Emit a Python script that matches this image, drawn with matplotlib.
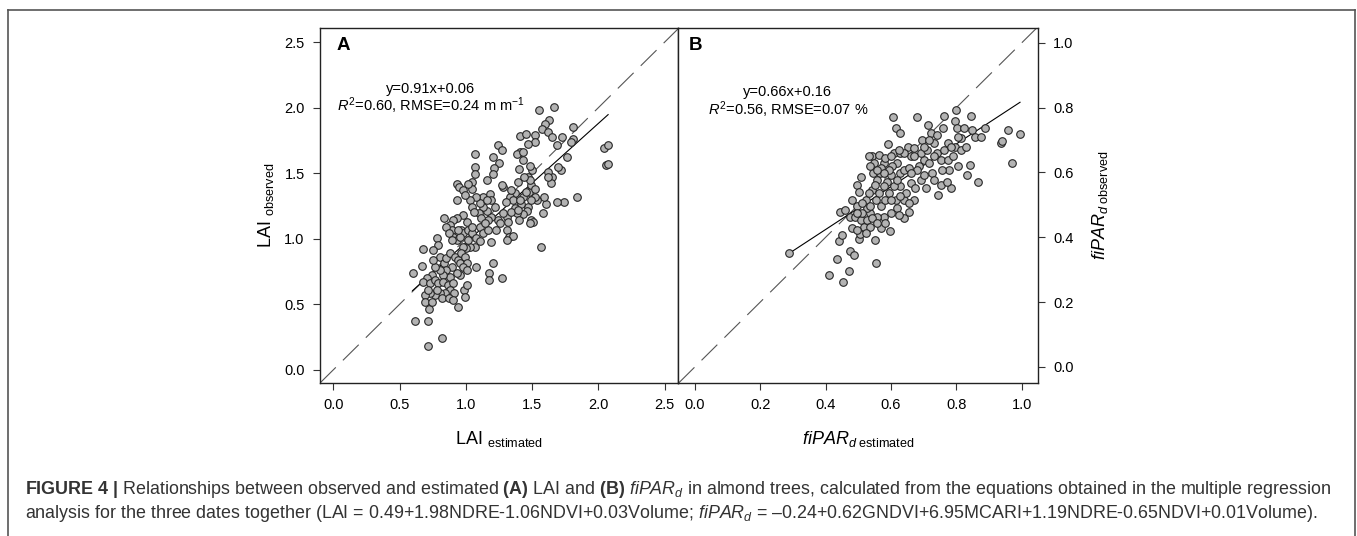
import numpy as np
import matplotlib
matplotlib.use("Agg")
import matplotlib.pyplot as plt
from matplotlib.lines import Line2D

plt.rcParams['font.family'] = ['Liberation Sans', 'DejaVu Sans']
plt.rcParams['mathtext.fontset'] = 'custom'
plt.rcParams['mathtext.rm'] = 'Liberation Sans'
plt.rcParams['mathtext.it'] = 'Liberation Sans:italic'
plt.rcParams['mathtext.bf'] = 'Liberation Sans:bold'

# panel A: LAI estimated vs observed
lai_est = [0.598, 0.62, 0.666, 0.678, 0.711, 0.716, 0.724, 0.819, 1.555, 1.663, 1.628, 1.60, 1.575, 1.616,
           1.646, 1.525, 1.525, 1.407, 1.452, 1.465, 1.726, 1.806, 1.81, 1.79, 1.686, 1.764, 1.716, 1.693,
           1.648, 1.64, 1.616, 1.616, 2.043, 2.073, 2.055, 2.073, 1.837, 1.739, 1.688, 1.603, 1.59, 1.538,
           1.52, 1.583, 1.565, 1.477, 1.49, 1.465, 1.502, 1.482, 1.47, 1.495, 1.51, 1.482, 1.462, 1.432,
           1.415, 1.432, 1.45, 1.394, 1.402, 1.432, 1.412, 1.382, 1.432, 1.37, 1.332, 1.357, 1.307, 1.324,
           1.352, 1.307, 1.382, 1.40, 1.37, 1.307, 1.337, 1.281, 1.269, 1.244, 1.276, 1.251, 1.206, 1.214,
           1.201, 1.156, 1.131, 1.181, 1.186, 1.219, 1.244, 1.261, 1.231, 1.193, 1.168, 1.156, 1.131, 1.10,
           1.106, 1.08, 1.106, 1.131, 1.168, 1.186, 1.201, 1.176, 1.176, 1.269, 1.08, 1.07, 1.068, 1.07,
           1.043, 1.048, 1.018, 1.03, 1.048, 1.063, 0.935, 0.945, 0.98, 0.992, 0.935, 0.98, 0.93, 1.005,
           0.96, 0.98, 1.018, 1.043, 1.08, 1.106, 1.068, 1.03, 1.0, 0.975, 0.905, 0.879, 0.892, 0.905,
           0.93, 0.955, 0.942, 0.834, 0.854, 0.874, 0.897, 0.779, 0.792, 0.754, 0.804, 0.834, 0.854, 0.879,
           0.917, 0.942, 0.967, 0.955, 0.992, 1.005, 0.98, 1.005, 0.955, 0.93, 0.897, 0.854, 0.879, 0.829,
           0.804, 0.766, 0.754, 0.741, 0.704, 0.678, 0.729, 0.766, 0.792, 0.829, 0.867, 0.905, 0.879, 0.91,
           0.842, 0.804, 0.766, 0.729, 0.691, 0.716, 0.691, 0.741, 0.784, 0.817, 0.874, 0.905, 0.942, 0.987,
           1.005, 0.997, 1.018, 1.043, 1.118, 1.143, 1.161, 1.302, 1.337, 1.482, 1.281, 1.319, 1.394, 1.407,
           1.442, 1.52, 1.495]
lai_obs = [0.736, 0.376, 0.794, 0.919, 0.373, 0.185, 0.464, 0.246, 1.98, 2.005, 1.904, 1.878, 1.84, 1.815,
           1.777, 1.789, 1.739, 1.782, 1.797, 1.721, 1.777, 1.853, 1.764, 1.739, 1.713, 1.624, 1.523, 1.548,
           1.472, 1.426, 1.51, 1.472, 1.693, 1.713, 1.566, 1.569, 1.32, 1.282, 1.282, 1.264, 1.32, 1.294,
           1.32, 1.193, 0.939, 1.358, 1.409, 1.472, 1.523, 1.553, 1.244, 1.142, 1.129, 1.117, 1.213, 1.188,
           1.264, 1.32, 1.358, 1.434, 1.53, 1.599, 1.662, 1.65, 1.662, 1.35, 1.32, 1.294, 1.066, 1.01,
           1.02, 0.99, 1.193, 1.142, 1.231, 1.168, 1.206, 1.396, 1.409, 1.713, 1.675, 1.574, 1.624, 1.536,
           1.497, 1.447, 1.32, 1.345, 1.294, 1.244, 1.142, 1.117, 1.066, 1.168, 1.142, 1.213, 1.244, 1.193,
           1.269, 1.32, 1.091, 1.041, 1.066, 0.977, 0.817, 0.736, 0.685, 0.698, 0.787, 1.65, 1.548, 1.492,
           1.434, 1.376, 1.421, 1.294, 1.244, 1.206, 1.421, 1.396, 1.371, 1.332, 1.294, 1.18, 1.155, 1.129,
           1.066, 1.041, 1.066, 1.041, 1.003, 0.985, 0.939, 0.939, 0.926, 0.939, 1.142, 1.104, 1.066, 1.015,
           0.99, 1.015, 1.066, 1.155, 1.091, 1.041, 0.99, 1.003, 0.952, 0.914, 0.863, 0.812, 0.85, 0.888,
           0.863, 0.838, 0.888, 0.812, 0.863, 0.812, 0.787, 0.761, 0.723, 0.736, 0.787, 0.761, 0.711, 0.723,
           0.761, 0.787, 0.838, 0.723, 0.698, 0.673, 0.66, 0.685, 0.66, 0.673, 0.647, 0.66, 0.609, 0.584,
           0.584, 0.584, 0.571, 0.584, 0.571, 0.609, 0.52, 0.52, 0.609, 0.546, 0.546, 0.533, 0.477, 0.609,
           0.647, 0.553, 0.99, 1.091, 1.155, 1.117, 1.294, 1.282, 1.371, 1.447, 1.193, 1.129, 1.218, 1.294,
           1.472, 1.383, 1.294]

# panel B: fiPAR_d estimated vs observed
fipar_est = [0.289, 0.409, 0.453, 0.471, 0.435, 0.474, 0.488, 0.553, 0.551, 0.502, 0.504, 0.44, 0.45, 0.445,
             0.46, 0.476, 0.481, 0.496, 0.501, 0.509, 0.496, 0.491, 0.507, 0.517, 0.481, 0.496, 0.537, 0.542,
             0.544, 0.542, 0.547, 0.563, 0.578, 0.566, 0.558, 0.55, 0.563, 0.553, 0.568, 0.578, 0.57, 0.597,
             0.583, 0.588, 0.599, 0.59, 0.605, 0.615, 0.629, 0.609, 0.627, 0.619, 0.604, 0.629, 0.64, 0.629,
             0.609, 0.594, 0.614, 0.64, 0.619, 0.64, 0.655, 0.662, 0.655, 0.653, 0.67, 0.679, 0.696, 0.701,
             0.686, 0.691, 0.706, 0.681, 0.66, 0.714, 0.721, 0.732, 0.742, 0.716, 0.727, 0.732, 0.744, 0.752,
             0.742, 0.763, 0.76, 0.773, 0.752, 0.776, 0.778, 0.785, 0.771, 0.79, 0.798, 0.796, 0.801, 0.796,
             0.814, 0.814, 0.806, 0.824, 0.829, 0.844, 0.849, 0.842, 0.834, 0.865, 0.857, 0.875, 0.887, 0.936,
             0.941, 0.959, 0.969, 0.995, 0.532, 0.537, 0.568, 0.583, 0.594, 0.619, 0.645, 0.675, 0.701, 0.67,
             0.655, 0.624, 0.599, 0.558, 0.527, 0.522, 0.532, 0.578, 0.599, 0.629, 0.66, 0.691, 0.711, 0.732,
             0.757, 0.763, 0.783, 0.806, 0.716, 0.701, 0.67, 0.64, 0.624, 0.599, 0.578, 0.558, 0.512, 0.512,
             0.527, 0.542, 0.558, 0.537, 0.522, 0.583, 0.537, 0.496]
fipar_obs = [0.351, 0.284, 0.261, 0.297, 0.332, 0.356, 0.345, 0.32, 0.392, 0.394, 0.41, 0.387, 0.407, 0.479,
             0.485, 0.464, 0.515, 0.562, 0.541, 0.586, 0.495, 0.464, 0.454, 0.433, 0.428, 0.423, 0.474, 0.546,
             0.598, 0.652, 0.629, 0.655, 0.629, 0.598, 0.577, 0.562, 0.536, 0.515, 0.495, 0.464, 0.428, 0.418,
             0.515, 0.572, 0.593, 0.689, 0.771, 0.737, 0.722, 0.66, 0.66, 0.629, 0.619, 0.598, 0.608, 0.557,
             0.557, 0.536, 0.515, 0.515, 0.49, 0.459, 0.479, 0.567, 0.613, 0.68, 0.675, 0.771, 0.701, 0.639,
             0.619, 0.577, 0.552, 0.608, 0.65, 0.747, 0.722, 0.691, 0.716, 0.629, 0.598, 0.577, 0.531, 0.562,
             0.66, 0.773, 0.737, 0.691, 0.639, 0.639, 0.608, 0.552, 0.572, 0.65, 0.794, 0.758, 0.737, 0.68,
             0.706, 0.67, 0.619, 0.737, 0.68, 0.773, 0.732, 0.624, 0.593, 0.572, 0.711, 0.711, 0.737, 0.691,
             0.696, 0.73, 0.629, 0.72, 0.65, 0.619, 0.613, 0.645, 0.608, 0.577, 0.536, 0.552, 0.593, 0.515,
             0.505, 0.469, 0.474, 0.464, 0.49, 0.515, 0.536, 0.557, 0.515, 0.526, 0.598, 0.66, 0.67, 0.65,
             0.608, 0.67, 0.68, 0.711, 0.701, 0.68, 0.65, 0.66, 0.67, 0.65, 0.598, 0.608, 0.505, 0.474,
             0.454, 0.459, 0.443, 0.433, 0.413, 0.443, 0.495, 0.474]

# fitted lines
fit_a = (0.91, 0.06)
fit_b = (0.66, 0.16)
xticks_a = [0.0, 0.5, 1.0, 1.5, 2.0, 2.5]
xticks_b = [0.0, 0.2, 0.4, 0.6, 0.8, 1.0]

W, H = 1357, 536
fig = plt.figure(figsize=(W / 100, H / 100), dpi=100)

def box(l, t, r, b):
    return [l / W, 1 - b / H, (r - l) / W, (b - t) / H]

axA = fig.add_axes(box(320, 28, 678, 383))
axB = fig.add_axes(box(678, 28, 1038, 383))

mk = dict(s=30, facecolor='#b3b3b3', edgecolor='#262626', linewidths=0.8, zorder=3)
dash = dict(color='#555555', lw=0.8, dashes=(20, 9))

# panel A
axA.plot([-0.1, 2.6], [-0.1, 2.6], **dash)
xs = np.array([min(lai_est), max(lai_est)])
axA.plot(xs, fit_a[0] * xs + fit_a[1], color='black', lw=0.8, zorder=2)
axA.scatter(lai_est, lai_obs, **mk)
axA.set_xlim(-0.1, 2.6)
axA.set_ylim(-0.1, 2.607)
axA.set_xticks(xticks_a)
axA.set_yticks(xticks_a)
axA.set_xticklabels(['%.1f' % v for v in xticks_a])
axA.set_yticklabels(['%.1f' % v for v in xticks_a])
axA.set_xlabel(r'LAI $_{\rm estimated}$', fontsize=13, labelpad=12)
axA.set_ylabel(r'LAI $_{\rm observed}$', fontsize=13, labelpad=6)
axA.text(0.045, 0.975, 'A', transform=axA.transAxes, fontsize=13.5, fontweight='bold', va='top')
axA.text(0.31, 0.80, 'y=0.91x+0.06\n' + r'$R^2$=0.60, RMSE=0.24 m m$^{-1}$',
         transform=axA.transAxes, ha='center', va='center', fontsize=10.5, linespacing=1.0)

# panel B
axB.plot([-0.05, 1.05], [-0.05, 1.05], **dash)
xs = np.array([min(fipar_est), max(fipar_est)])
axB.plot(xs, fit_b[0] * xs + fit_b[1], color='black', lw=0.8, zorder=2)
axB.scatter(fipar_est, fipar_obs, **mk)
axB.set_xlim(-0.052, 1.05)
axB.set_ylim(-0.05, 1.046)
axB.set_xticks(xticks_b)
axB.set_yticks(xticks_b)
axB.set_xticklabels(['%.1f' % v for v in xticks_b])
axB.set_yticklabels(['%.1f' % v for v in xticks_b])
axB.yaxis.tick_right()
axB.yaxis.set_label_position('right')
axB.set_xlabel(r'$fiPAR_{d\ \mathrm{estimated}}$', fontsize=13, labelpad=12)
axB.set_ylabel(r'$fiPAR_{d\ \mathrm{observed}}$', fontsize=13, labelpad=12)
axB.text(0.03, 0.975, 'B', transform=axB.transAxes, fontsize=13.5, fontweight='bold', va='top')
axB.text(0.305, 0.79, 'y=0.66x+0.16\n' + r'$R^2$=0.56, RMSE=0.07 %',
         transform=axB.transAxes, ha='center', va='center', fontsize=10.5, linespacing=1.05)

for ax in (axA, axB):
    ax.tick_params(direction='out', length=5, width=0.8, labelsize=10.5, color='#333333', pad=6)
    for sp in ax.spines.values():
        sp.set_linewidth(1.0)
        sp.set_color('#222222')

# outer frame (open at the bottom)
fc = '#555555'
fig.add_artist(Line2D([8 / W, 8 / W], [0, 1 - 10 / H], color=fc, lw=1.2))
fig.add_artist(Line2D([8 / W, 1355 / W], [1 - 10 / H, 1 - 10 / H], color=fc, lw=1.2))
fig.add_artist(Line2D([1355 / W, 1355 / W], [0, 1 - 10 / H], color=fc, lw=1.2))

cap1 = (r'$\mathbf{FIGURE\ 4\ |}$ Relationships between observed and estimated $\mathbf{(A)}$ LAI and '
        r'$\mathbf{(B)}$ $fiPAR_d$ in almond trees, calculated from the equations obtained in the multiple regression')
cap2 = (r'analysis for the three dates together (LAI = 0.49+1.98NDRE-1.06NDVI+0.03Volume; '
        r'$fiPAR_d$ = –0.24+0.62GNDVI+6.95MCARI+1.19NDRE-0.65NDVI+0.01Volume).')
fig.text(25 / W, 1 - 490 / H, cap1, fontsize=12.9, color='#333333', va='center')
fig.text(25 / W, 1 - 513 / H, cap2, fontsize=12.9, color='#333333', va='center')

fig.savefig('out.png', dpi=100)
